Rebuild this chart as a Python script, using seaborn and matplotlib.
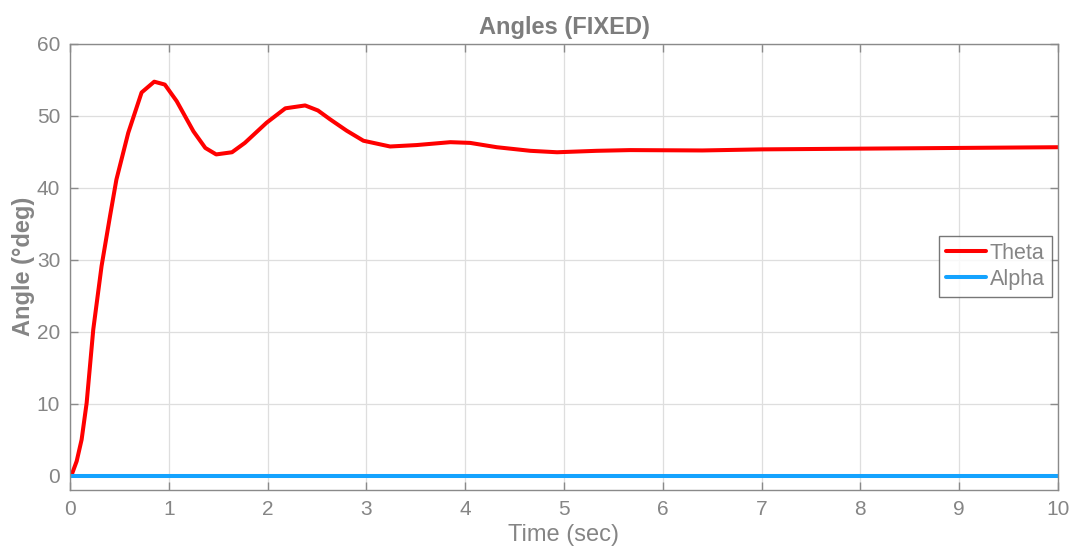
import matplotlib
matplotlib.use("Agg")
import matplotlib.pyplot as plt
import seaborn as sns
import pandas as pd

# Pendulum angle response (degrees) over time (seconds)
theta_time = [0.0, 0.017, 0.068, 0.118, 0.169, 0.236, 0.32, 0.405, 0.47, 0.59, 0.725,
              0.853, 0.96, 1.08, 1.25, 1.37, 1.48, 1.64, 1.77, 1.99, 2.18, 2.38,
              2.51, 2.63, 2.80, 2.97, 3.24, 3.51, 3.85, 4.05, 4.32, 4.66, 4.93,
              5.33, 5.67, 6.4, 7.0, 8.0, 9.0, 10.0]
theta_values = [0.0, 0.1, 2.0, 5.0, 10.1, 20.3, 29.1, 36.0, 41.1, 47.6, 53.2,
                54.7, 54.3, 52.0, 47.8, 45.5, 44.6, 44.9, 46.2, 49.0, 51.0, 51.4,
                50.7, 49.5, 47.9, 46.5, 45.7, 45.9, 46.3, 46.2, 45.6, 45.1, 44.9,
                45.1, 45.2, 45.15, 45.3, 45.4, 45.5, 45.6]
alpha_time = [0.0, 10.0]
alpha_values = [0.0, 0.0]

series_names = ["Theta", "Alpha"]
series_colors = ["#ff0000", "#14a3ff"]
x_ticks = list(range(0, 11))
y_ticks = list(range(0, 61, 10))

df = pd.concat([
    pd.DataFrame({"Time": theta_time, "Angle": theta_values, "Series": "Theta"}),
    pd.DataFrame({"Time": alpha_time, "Angle": alpha_values, "Series": "Alpha"}),
], ignore_index=True)

sns.set_theme(style="white")
plt.rcParams["font.family"] = ["Liberation Sans", "DejaVu Sans"]
text_color = "#858585"
edge_color = "#8a8a8a"

fig = plt.figure(figsize=(10.73, 5.55), dpi=100)
ax = fig.add_axes([0.0652, 0.1171, 0.9208, 0.8045])

sns.lineplot(data=df, x="Time", y="Angle", hue="Series", hue_order=series_names,
             palette=dict(zip(series_names, series_colors)), linewidth=2.9,
             sort=False, estimator=None, ax=ax)
for ln in ax.get_lines():
    ln.set_solid_joinstyle("round")
    ln.set_solid_capstyle("round")

ax.set_xlim(0, 10)
ax.set_ylim(-2, 60)
ax.set_xticks(x_ticks)
ax.set_yticks(y_ticks)
ax.grid(True, color="#dedede", linewidth=0.9)
ax.set_axisbelow(True)

for side in ["top", "bottom", "left", "right"]:
    ax.spines[side].set_visible(True)
    ax.spines[side].set_color(edge_color)
    ax.spines[side].set_linewidth(1.0)

ax.tick_params(axis="both", which="both", direction="in", length=6, width=1.0,
               color=edge_color, labelcolor=text_color, labelsize=15,
               top=True, right=True, bottom=True, left=True, pad=7)

ax.set_title("Angles (FIXED)", fontsize=17, fontweight="bold", color="#7d7d7d", pad=7)
ax.set_xlabel("Time (sec)", fontsize=17, color=text_color, labelpad=4)
ax.set_ylabel("Angle (°deg)", fontsize=17, fontweight="bold", color=text_color, labelpad=1)

leg = ax.legend(loc="upper right", bbox_to_anchor=(0.9936, 0.5695), borderaxespad=0,
                fontsize=15.5, frameon=True, fancybox=False, handlelength=1.85,
                handletextpad=0.15, borderpad=0.33, labelspacing=0.22)
leg.get_frame().set_edgecolor("#555555")
leg.get_frame().set_linewidth(1.0)
for t in leg.get_texts():
    t.set_color(text_color)
for line in leg.get_lines():
    line.set_linewidth(2.9)

fig.savefig("out.png", dpi=100)
